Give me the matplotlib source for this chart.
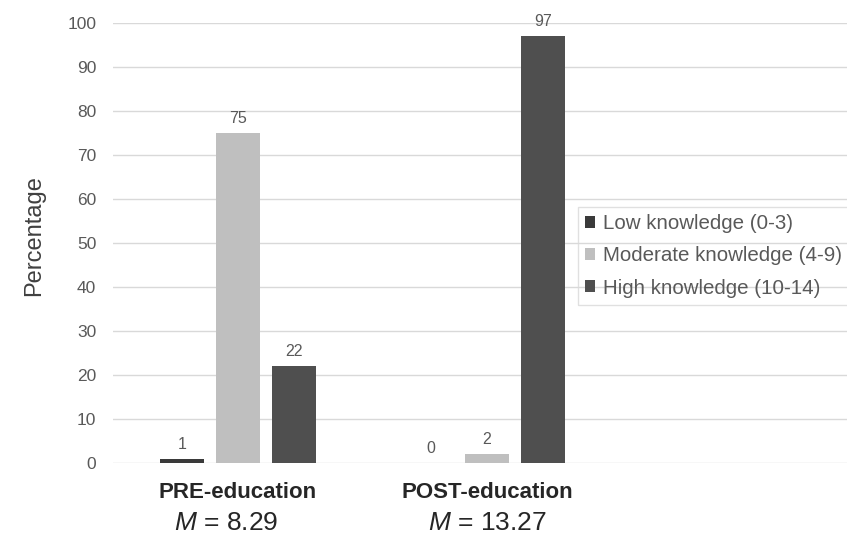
import numpy as np
import matplotlib.pyplot as plt

plt.rcParams['font.family'] = ['Liberation Sans', 'DejaVu Sans']
plt.rcParams['mathtext.fontset'] = 'custom'
plt.rcParams['mathtext.it'] = 'Liberation Sans:italic'
plt.rcParams['mathtext.rm'] = 'Liberation Sans'

groups = ['PRE-education', 'POST-education']
means = ['8.29', '13.27']
series = ['Low knowledge (0-3)', 'Moderate knowledge (4-9)', 'High knowledge (10-14)']
values = [[1, 0], [75, 2], [22, 97]]
colors = ['#3a3a3a', '#bfbfbf', '#4f4f4f']

text_grey = '#595959'

fig = plt.figure(figsize=(8.47, 5.38), dpi=100)
ax = fig.add_axes([113 / 847, 75 / 538, 734 / 847, 440 / 538])

x = np.arange(len(groups))
width = 0.173
step = 0.225

for i, (name, vals, c) in enumerate(zip(series, values, colors)):
    pos = x + (i - 1) * step
    bars = ax.bar(pos, vals, width, color=c, label=name, zorder=3)
    for b, v in zip(bars, vals):
        ax.annotate(str(v), (b.get_x() + b.get_width() / 2, v),
                    xytext=(0, 5), textcoords='offset points',
                    ha='center', va='bottom', fontsize=11.5, color=text_grey)

ax.set_xlim(-0.502, 2.446)
ax.set_ylim(0, 100)
ax.set_yticks(np.arange(0, 101, 10))
ax.yaxis.grid(True, color='#d9d9d9', linewidth=1, zorder=0)
ax.tick_params(axis='y', length=0, pad=12, labelsize=12.5, labelcolor=text_grey)
ax.set_xticks([])
for s in ax.spines.values():
    s.set_visible(False)

ax.set_ylabel('Percentage', fontsize=17, color='#404040')
ax.yaxis.set_label_coords(-0.092, 0.518)

# group names with their mean scores underneath
mean_shift = [-0.048, 0.0]
for xi, g, m, dx in zip(x, groups, means, mean_shift):
    ax.text(xi, -6.6, g, ha='center', va='center',
            fontsize=16, fontweight='bold', color='#262626')
    ax.text(xi + dx, -13.6, r'$\mathit{M}$ = ' + m, ha='center', va='center',
            fontsize=19, color='#262626')

leg = fig.legend(loc='upper left', bbox_to_anchor=(578 / 847, (538 - 207) / 538),
                 frameon=True, fontsize=14.8, handlelength=0.5, handleheight=0.5,
                 handletextpad=0.35, labelspacing=0.64, borderpad=0.35,
                 borderaxespad=0)
leg.get_frame().set_facecolor('none')
leg.get_frame().set_edgecolor('#d9d9d9')
leg.get_frame().set_boxstyle('square', pad=0)
for t in leg.get_texts():
    t.set_color(text_grey)

fig.savefig('out.png', dpi=100)
